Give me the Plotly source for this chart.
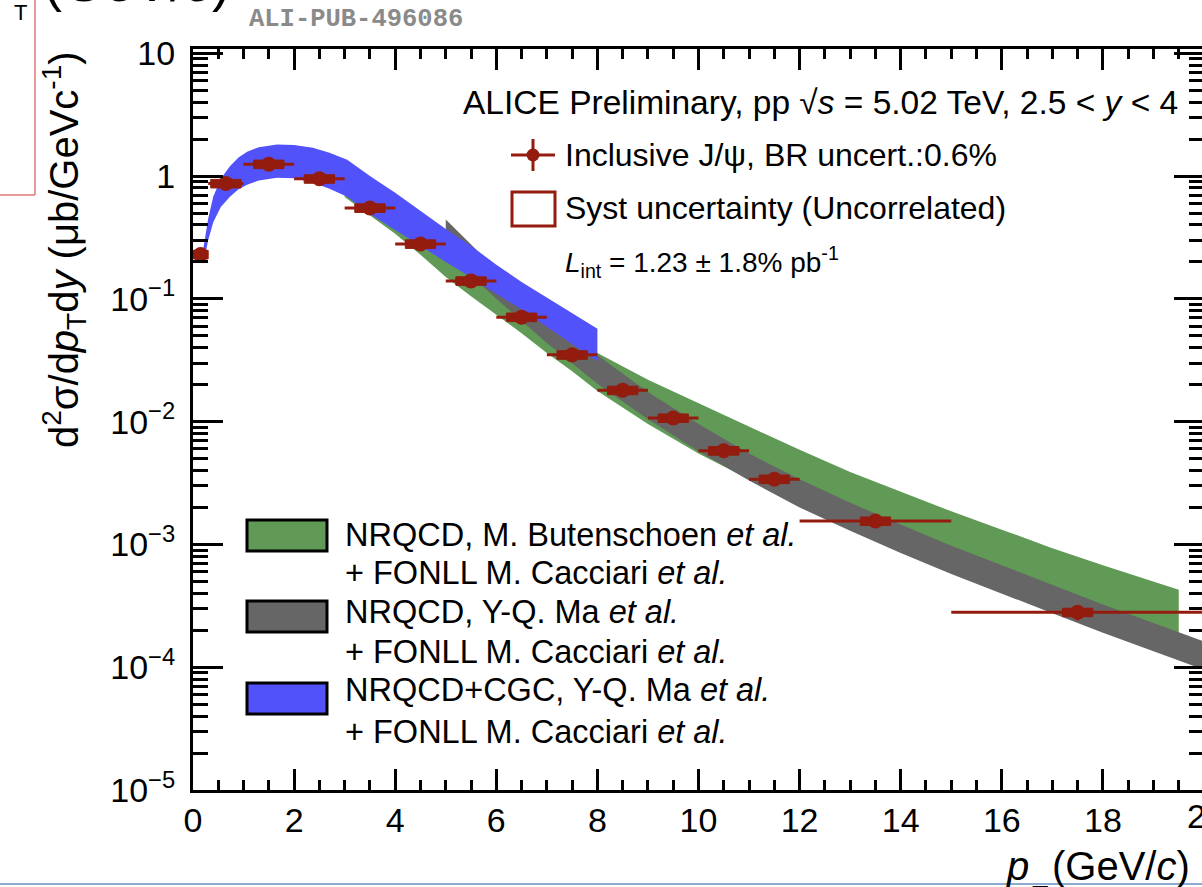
import plotly.graph_objects as go

# ---------------- data ----------------
pt_center = [0.15, 0.65, 1.5, 2.5, 3.5, 4.5, 5.5, 6.5, 7.5, 8.5, 9.5, 10.5, 11.5, 13.5, 17.5]
pt_halfwidth = [0.15, 0.35, 0.5, 0.5, 0.5, 0.5, 0.5, 0.5, 0.5, 0.5, 0.5, 0.5, 0.5, 1.5, 2.5]
xsec = [0.23, 0.87, 1.25, 0.95, 0.55, 0.28, 0.14, 0.071, 0.035, 0.018, 0.0107, 0.0058,
        0.0034, 0.00155, 0.00028]
stat_rel = [0.04, 0.03, 0.02, 0.02, 0.02, 0.02, 0.03, 0.03, 0.04, 0.05, 0.06, 0.07, 0.08, 0.09, 0.14]
syst_rel = [0.08, 0.08, 0.08, 0.08, 0.08, 0.08, 0.08, 0.08, 0.08, 0.08, 0.08, 0.08, 0.08, 0.08, 0.08]

# NRQCD+CGC, Y-Q. Ma et al. + FONLL (blue)
blue_pt = [0.2, 0.3, 0.4, 0.55, 0.73, 0.9, 1.07, 1.3, 1.66, 2.0, 2.37, 2.7, 3.05, 3.5, 4.0,
           4.5, 5.0, 5.5, 6.0, 6.5, 7.0, 7.5, 8.0]
blue_hi = [0.25, 0.45, 0.68, 0.95, 1.2, 1.42, 1.58, 1.72, 1.81, 1.79, 1.70, 1.55, 1.36, 1.0,
           0.73, 0.52, 0.37, 0.27, 0.19, 0.137, 0.102, 0.076, 0.057]
blue_lo = [0.19, 0.30, 0.42, 0.56, 0.68, 0.78, 0.85, 0.92, 0.97, 0.96, 0.885, 0.79, 0.68, 0.49,
           0.36, 0.27, 0.20, 0.15, 0.11, 0.082, 0.059, 0.043, 0.031]

# NRQCD, Y-Q. Ma et al. + FONLL (grey)
grey_pt = [5, 6, 7, 8, 9, 10, 11, 12, 13, 14, 15, 16, 17, 18, 19, 20]
grey_hi = [0.442, 0.174, 0.0759, 0.0347, 0.0174, 0.00955, 0.0055, 0.00339, 0.00219, 0.00145,
           0.000977, 0.000676, 0.000468, 0.000324, 0.000229, 0.000162]
grey_lo = [0.24, 0.1, 0.0437, 0.0204, 0.01047, 0.00575, 0.00331, 0.002, 0.00129, 0.000851,
           0.000575, 0.000398, 0.000275, 0.000191, 0.000135, 0.0000955]

# NRQCD, M. Butenschoen et al. + FONLL (green)
green_pt = [3, 3.5, 4, 4.5, 5, 5.5, 6, 6.5, 7, 7.5, 8, 9, 10, 11, 12, 13, 14, 15, 16, 17, 18,
            19, 19.5]
green_hi = [0.832, 0.631, 0.468, 0.347, 0.257, 0.191, 0.141, 0.107, 0.0794, 0.0537, 0.0363,
            0.0219, 0.0141, 0.00912, 0.00589, 0.00389, 0.00269, 0.00186, 0.00132, 0.000933,
            0.000676, 0.000501, 0.000427]
green_lo = [0.676, 0.479, 0.339, 0.229, 0.151, 0.105, 0.0741, 0.0525, 0.0363, 0.0257, 0.0178,
            0.00955, 0.0055, 0.00339, 0.00219, 0.00145, 0.001, 0.000708, 0.000501, 0.000363,
            0.000263, 0.000191, 0.000166]

x_tickvals = [0, 2, 4, 6, 8, 10, 12, 14, 16, 18]
x_ticktext = ["0", "2", "4", "6", "8", "10", "12", "14", "16", "18"]
y_tickvals = [1e-5, 1e-4, 1e-3, 1e-2, 1e-1, 1, 10]
y_ticktext = ["10<sup>\u22125</sup>", "10<sup>\u22124</sup>", "10<sup>\u22123</sup>",
              "10<sup>\u22122</sup>", "10<sup>\u22121</sup>", "1", "10"]

# ---------------- style ----------------
W, H = 1202, 887
L, R, T, B = 193, 1202, 49, 790          # plot area in pixels
XMAX = 19.96
YLOG = [-5, 1.035]
FONT = "Liberation Sans, Arial, Helvetica, sans-serif"
C_RED = "#931c0e"
C_GREEN = "#609a56"
C_GREY = "#666666"
C_BLUE = "#5252fa"


def px(xp):
    return (xp - L) / (R - L)


def py(yp):
    return (B - yp) / (B - T)


fig = go.Figure()


def band(xs, hi, lo, color):
    fig.add_trace(go.Scatter(
        x=list(xs) + list(xs)[::-1], y=list(hi) + list(lo)[::-1],
        mode="lines", fill="toself", fillcolor=color, line=dict(width=0, color=color),
        hoverinfo="skip", showlegend=False))


band(green_pt, green_hi, green_lo, C_GREEN)
band(grey_pt, grey_hi, grey_lo, C_GREY)
band(blue_pt, blue_hi, blue_lo, C_BLUE)

# systematic boxes
bx, by = [], []
for xc, hw, v, s in zip(pt_center, pt_halfwidth, xsec, syst_rel):
    w = min(0.3, hw)
    bx += [xc - w, xc + w, xc + w, xc - w, xc - w, None]
    by += [v * (1 - s), v * (1 - s), v * (1 + s), v * (1 + s), v * (1 - s), None]
fig.add_trace(go.Scatter(x=bx, y=by, mode="lines", fill="toself", fillcolor=C_RED,
                         line=dict(color=C_RED, width=1), hoverinfo="skip", showlegend=False))

# data points
fig.add_trace(go.Scatter(
    x=pt_center, y=xsec, mode="markers",
    marker=dict(symbol="circle", size=15, color=C_RED),
    error_x=dict(type="data", array=pt_halfwidth, width=0, thickness=3, color=C_RED),
    error_y=dict(type="data", array=[v * s for v, s in zip(xsec, stat_rel)], width=0,
                 thickness=3, color=C_RED),
    showlegend=False))

# empty traces that carry the extra tick-only axes
for xa, ya in [("x2", "y2"), ("x3", "y3"), ("x2", "y4")]:
    fig.add_trace(go.Scatter(x=[], y=[], xaxis=xa, yaxis=ya, showlegend=False))

minor_y = [m * 10 ** e for e in range(-5, 1) for m in range(2, 10)]

common = dict(showgrid=False, zeroline=False, ticks="inside", tickcolor="black")
tickonly = dict(showline=False, linewidth=0, linecolor="rgba(0,0,0,0)",
                showticklabels=False, **common)

fig.update_layout(
    width=W, height=H,
    margin=dict(l=L, r=W - R, t=T, b=H - B, pad=0),
    paper_bgcolor="white", plot_bgcolor="white",
    font=dict(family=FONT, color="black"),
    showlegend=False,
    xaxis=dict(range=[0, XMAX], tickmode="array", tickvals=x_tickvals, ticktext=x_ticktext,
               ticklen=21, tickwidth=3, showline=True, linewidth=3, linecolor="black",
               tickfont=dict(size=34, family=FONT), ticklabelstandoff=-2, **common),
    yaxis=dict(type="log", range=YLOG, tickmode="array", tickvals=y_tickvals,
               ticktext=y_ticktext, ticklen=30, tickwidth=3, showline=True, linewidth=3,
               linecolor="black", tickfont=dict(size=34, family=FONT), ticklabelstandoff=8,
               **common),
    # top axis (major + minor ticks)
    xaxis2=dict(overlaying="x", side="top", anchor="y", range=[0, XMAX], dtick=2, tick0=0,
                ticklen=21, tickwidth=3, showline=True, linewidth=3, linecolor="black",
                showticklabels=False,
                minor=dict(ticks="inside", ticklen=10, tickwidth=2.5, dtick=0.5, tick0=0,
                           tickcolor="black", showgrid=False),
                **common),
    # bottom minor ticks
    xaxis3=dict(overlaying="x", side="bottom", anchor="y", range=[0, XMAX], dtick=0.5,
                tick0=0, ticklen=10, tickwidth=2.5, **tickonly),
    # right major ticks
    yaxis2=dict(overlaying="y", side="right", anchor="x", type="log", range=YLOG,
                tickmode="array", tickvals=y_tickvals, ticklen=28, tickwidth=3, **tickonly),
    # left minor ticks
    yaxis3=dict(overlaying="y", side="left", anchor="x", type="log", range=YLOG,
                tickmode="array", tickvals=minor_y, ticklen=15, tickwidth=2.5, **tickonly),
    # right minor ticks
    yaxis4=dict(overlaying="y", side="right", anchor="x", type="log", range=YLOG,
                tickmode="array", tickvals=minor_y, ticklen=13, tickwidth=2.5, **tickonly),
)

shapes = []
# legend (bottom-left) boxes
for (y0, y1, col) in [(520, 551, C_GREEN), (601, 632, C_GREY), (683, 714, C_BLUE)]:
    shapes.append(dict(type="rect", xref="paper", yref="paper", x0=px(247), x1=px(327),
                       y0=py(y1), y1=py(y0), fillcolor=col, line=dict(color="black", width=3)))
# legend (top-right) symbols
shapes.append(dict(type="line", xref="paper", yref="paper", x0=px(511), x1=px(555),
                   y0=py(155), y1=py(155), line=dict(color=C_RED, width=3)))
shapes.append(dict(type="line", xref="paper", yref="paper", x0=px(533), x1=px(533),
                   y0=py(139), y1=py(171), line=dict(color=C_RED, width=3)))
shapes.append(dict(type="circle", xref="paper", yref="paper", x0=px(526.5), x1=px(539.5),
                   y0=py(161.5), y1=py(148.5), fillcolor=C_RED, line=dict(color=C_RED, width=0)))
shapes.append(dict(type="rect", xref="paper", yref="paper", x0=px(512), x1=px(555),
                   y0=py(226), y1=py(192), line=dict(color=C_RED, width=3)))
# page decorations
shapes.append(dict(type="line", xref="paper", yref="paper", x0=px(35), x1=px(35),
                   y0=py(-5), y1=py(195), line=dict(color="#e07a7a", width=1.5)))
shapes.append(dict(type="line", xref="paper", yref="paper", x0=px(-5), x1=px(35),
                   y0=py(195), y1=py(195), line=dict(color="#e07a7a", width=1.5)))
shapes.append(dict(type="line", xref="paper", yref="paper", x0=px(-5), x1=px(1210),
                   y0=py(884), y1=py(884), line=dict(color="#8eaad0", width=2)))
fig.update_layout(shapes=shapes)

ann = []


def text(x, y, s, size=32, xanchor="left", yanchor="middle", color="black", family=FONT,
         angle=0):
    ann.append(dict(xref="paper", yref="paper", x=px(x), y=py(y), text=s, showarrow=False,
                    xanchor=xanchor, yanchor=yanchor, textangle=angle,
                    font=dict(size=size, color=color, family=family)))


text(461, 102, "ALICE Preliminary, pp \u221a<i>s</i> = 5.02 TeV, 2.5 &lt; <i>y</i> &lt; 4", 33.5)
text(563, 155, "Inclusive J/\u03c8, BR uncert.:0.6%", 32)
text(563, 208, "Syst uncertainty (Uncorrelated)", 32)
text(563, 262, "<i>L</i><sub>int</sub> = 1.23 \u00b1 1.8% pb<sup>-1</sup>", 28)
text(343, 535, "NRQCD, M. Butenschoen <i>et al.</i>", 32.5)
text(343, 573, "+ FONLL M. Cacciari <i>et al.</i>", 32.5)
text(343, 612, "NRQCD, Y-Q. Ma <i>et al.</i>", 32.5)
text(343, 652, "+ FONLL M. Cacciari <i>et al.</i>", 32.5)
text(343, 690, "NRQCD+CGC, Y-Q. Ma <i>et al.</i>", 32.5)
text(343, 732, "+ FONLL M. Cacciari <i>et al.</i>", 32.5)
# axis titles
text(64, 250, "d<sup>2</sup>\u03c3/d<i>p</i><sub>T</sub>d<i>y</i> (\u03bcb/GeVc<sup>-1</sup>)",
     40, xanchor="center", angle=-90)
text(1017, 866, "<i>p</i>", 40, xanchor="center")
text(1192, 866, "(GeV/<i>c</i>)", 40, xanchor="right")
text(1040, 879, "T", 27, xanchor="center", yanchor="top")
# "20" tick label partially outside the page
text(1185, 816, "20", 34, xanchor="left")
# page header fragments
text(356, 20, "<b>ALI-PUB-496086</b>", 25.5, xanchor="center", color="#8a8a8a",
     family="Liberation Mono, Courier New, monospace")
text(20, 12, "T", 22, xanchor="center")
text(42, 14, "(GeV/<i>c</i>)", 54, xanchor="left", yanchor="bottom")
fig.update_layout(annotations=ann)

fig.write_html("out.html", config={"displayModeBar": False},
               post_script="document.body.style.margin='0';document.body.style.padding='0';")
